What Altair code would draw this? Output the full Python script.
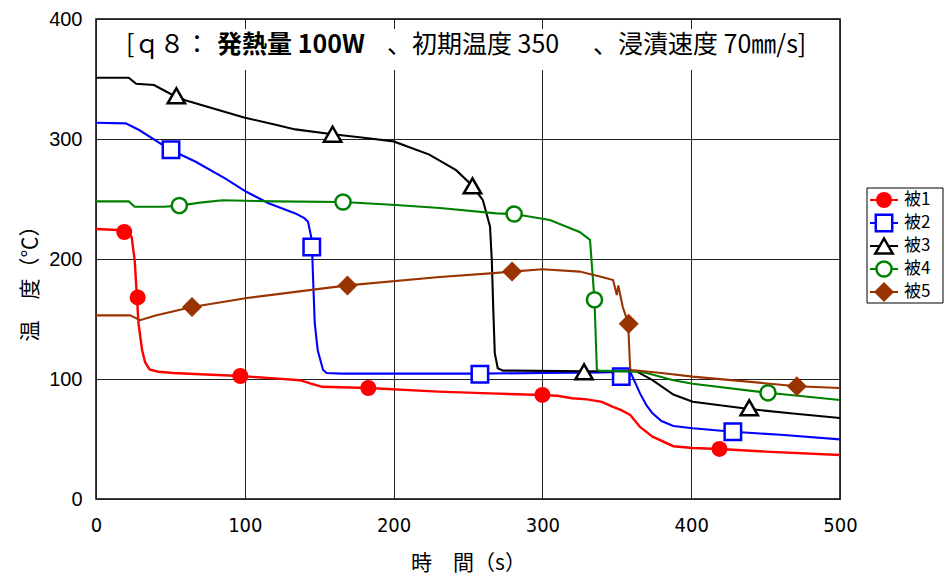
import altair as alt
import pandas as pd

# ---- series names / colours / marker styles ----
names = ["被1", "被2", "被3", "被4", "被5"]
colors = ["#FF0000", "#0000FF", "#000000", "#008000", "#993300"]
shapes = ["circle", "square", "triangle-up", "circle", "diamond"]
filled = [True, False, False, False, True]
sizes = [256, 270, 300, 230, 400]

# ---- temperature curves (time s, temperature °C) ----
t1 = [0, 18, 22, 24, 26, 27.5, 28.6, 31, 33, 36, 42, 52, 70, 97, 120, 137, 145, 152,
      183, 230, 265, 300, 310, 320, 330, 340, 347, 353, 359, 365.6, 374, 388, 401, 419, 450, 500]
T1 = [225, 224, 222, 218, 199, 168, 146, 124, 114, 108, 106, 105, 104, 102.5, 100.5, 99, 96, 93.5,
      92.5, 89.5, 88, 86.7, 86, 84, 83, 81, 77, 74, 70, 60, 52, 44, 42.5, 41.7, 39.5, 36.7]

t2 = [0, 20, 29, 50, 67, 87, 101, 116, 134, 140, 142.5, 145, 146, 147, 149, 152.6, 155, 165,
      200, 258, 300, 340, 359, 362, 365.6, 370, 374, 380, 388, 401, 428, 460, 500]
T2 = [313.5, 313, 307.5, 291, 281, 267, 256, 246.5, 238, 234, 231, 216, 180, 146.5, 124, 107.5, 105, 104.5,
      104.5, 104.5, 105, 105.5, 106, 98, 88, 78, 71.4, 65, 60.8, 58.9, 56, 53.5, 49.7]

t3 = [0, 22, 27, 39, 54, 60.5, 80, 99.5, 120, 134, 159, 180, 200, 224, 242, 253, 260, 264.8,
      266, 267, 268, 270, 273.5, 280, 330, 363, 374, 388, 401, 439, 470, 500]
T3 = [351, 351, 346, 345, 335, 332, 325, 318, 312, 308, 304, 301, 298, 287, 274, 261, 249, 227,
      199, 157.5, 121.5, 109, 107, 107, 106.5, 106.5, 99, 87, 81, 75, 71, 67.5]

t4 = [0, 22, 26, 46, 56, 70, 85, 120, 166, 201.6, 231, 269, 281, 305, 325, 332, 333, 335,
      336.6, 338, 365, 370, 388, 401, 451.6, 500]
T4 = [248, 248, 243.6, 243.6, 244.5, 247, 249, 248, 247.5, 245, 242.5, 238, 237.5, 232.5, 222.5, 216, 199, 166,
      107.5, 107, 106, 105, 99, 96, 88.5, 82.5]

t5 = [0, 23, 29.6, 40, 64.5, 101.5, 130, 169, 231, 265, 279.6, 300, 325, 340, 347.5, 350, 351,
      354, 357.6, 359, 360, 380, 401, 471, 500]
T5 = [153, 153, 149, 153, 160, 167.5, 172, 178, 185, 188, 189.5, 191.5, 189.5, 185, 182.5, 170, 178,
      160, 147, 108, 107.5, 105, 102, 94, 92.5]

# ---- marker positions on each curve ----
mt1 = [19, 28, 97, 183, 300, 419]
mT1 = [222.5, 168, 102.5, 92.5, 86.7, 41.7]
mt2 = [50.4, 145, 258, 353, 428]
mT2 = [291, 210, 104, 102, 56]
mt3 = [54, 159, 253, 328, 439]
mT3 = [336, 304, 261, 106, 76]
mt4 = [56, 166, 281, 335, 451.6]
mT4 = [244.5, 247.5, 237.5, 166, 88.5]
mt5 = [64.5, 169, 279.6, 358, 471]
mT5 = [160, 178, 189.5, 146, 94]

curves = [(t1, T1), (t2, T2), (t3, T3), (t4, T4), (t5, T5)]
markers = [(mt1, mT1), (mt2, mT2), (mt3, mT3), (mt4, mT4), (mt5, mT5)]

W, H = 744, 480
CJK = "Noto Sans CJK JP"

xscale = alt.Scale(domain=[0, 500], nice=False)
yscale = alt.Scale(domain=[0, 400], nice=False)

x_axis = alt.Axis(values=[0, 100, 200, 300, 400, 500], title="時　間（s）",
                  labelFont="DejaVu Sans Condensed, Liberation Sans", labelFontSize=20,
                  labelPadding=16, labelFlush=False, labelOverlap=False,
                  titleFont=CJK, titleFontSize=21, titleFontWeight="normal",
                  titleX=W / 2, titleY=64, titleBaseline="middle")
y_axis = alt.Axis(values=[0, 100, 200, 300, 400], title="温　度（℃）",
                  labelFont="Liberation Sans", labelFontSize=20, labelPadding=14,
                  labelFlush=False, labelOverlap=False,
                  titleFont=CJK, titleFontSize=21, titleFontWeight="normal",
                  titleX=-66, titleY=259, titleAlign="center", titleBaseline="middle")

X = alt.X("t:Q", scale=xscale, axis=x_axis)
Y = alt.Y("T:Q", scale=yscale, axis=y_axis)

layers = []
for i, name in enumerate(names):
    t, T = curves[i]
    df = pd.DataFrame({"t": t, "T": T, "idx": range(len(t))})
    line = alt.Chart(df).mark_line(color=colors[i], strokeWidth=2.4 if i == 0 else 2.1).encode(
        x=X, y=Y, order="idx:Q",
    )
    mt, mT = markers[i]
    dm = pd.DataFrame({"t": mt, "T": mT})
    pt = alt.Chart(dm).mark_point(
        shape=shapes[i], size=sizes[i], filled=filled[i],
        fill=colors[i] if filled[i] else "white",
        stroke=colors[i], strokeWidth=0 if filled[i] else 2.5, opacity=1,
    ).encode(x=X, y=Y)
    layers += [line, pt]

one = pd.DataFrame({"k": [0]})

# title box with mixed-weight text
title_box = alt.Chart(one).mark_rect(fill="white", stroke=None).encode(
    x=alt.value(20), x2=alt.value(732), y=alt.value(10), y2=alt.value(51))
title_parts = [("[ｑ８：", 30, "normal"), ("発熱量 100W", 121, "bold"),
               ("、初期温度 350", 291, "normal"), ("、浸漬速度 70㎜/s]", 497, "normal")]
title_layers = [title_box]
for txt, xp, wt in title_parts:
    title_layers.append(alt.Chart(one).mark_text(
        align="left", baseline="middle", font=CJK, fontSize=25, fontWeight=wt, color="black"
    ).encode(x=alt.value(xp), y=alt.value(26), text=alt.value(txt)))

# legend drawn to the right of the plot
leg = [alt.Chart(one).mark_rect(fill="white", stroke="black", strokeWidth=1).encode(
    x=alt.value(771), x2=alt.value(847), y=alt.value(169), y2=alt.value(284))]
for i, name in enumerate(names):
    yy = 181 + 23 * i
    leg.append(alt.Chart(one).mark_rule(color=colors[i], strokeWidth=2).encode(
        x=alt.value(774), x2=alt.value(802), y=alt.value(yy)))
    leg.append(alt.Chart(one).mark_point(
        shape=shapes[i], size=sizes[i], filled=filled[i],
        fill=colors[i] if filled[i] else "white",
        stroke=colors[i], strokeWidth=0 if filled[i] else 2.5, opacity=1,
    ).encode(x=alt.value(788), y=alt.value(yy)))
    leg.append(alt.Chart(one).mark_text(
        align="left", baseline="middle", font=CJK, fontSize=17, color="black"
    ).encode(x=alt.value(808), y=alt.value(yy), text=alt.value(name)))

chart = alt.layer(*layers, *title_layers, *leg).properties(
    width=W, height=H,
    autosize=alt.AutoSizeParams(type="none"),
    padding={"left": 96, "top": 19, "right": 105, "bottom": 80},
    background="white",
).configure_view(
    stroke="black", strokeWidth=1.5
).configure_axis(
    grid=True, gridColor="#222222", gridWidth=1, gridOpacity=1,
    domain=False, ticks=False, labelColor="black", titleColor="black",
)

chart.save("out.html", embed_options={"renderer": "svg", "actions": False})
